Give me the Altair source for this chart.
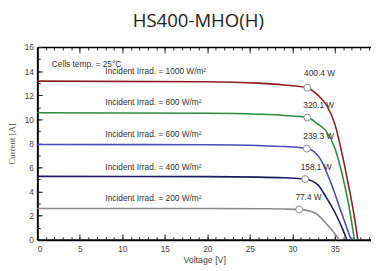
import altair as alt
import pandas as pd

# --- data ---
irrad = ["1000", "800", "600", "400", "200"]
colors = ["#8b1f1f", "#2f8a3f", "#4a4ab8", "#1c1c5c", "#8a8a8a"]

v_1000 = [0, 20, 26, 29, 31.76, 33.0, 34.0, 35.0, 35.7, 36.5, 37.2, 37.7]
i_1000 = [13.17, 13.12, 13.0, 12.85, 12.62, 12.0, 11.2, 9.6, 7.6, 4.9, 2.3, 0]
v_800 = [0, 20, 26, 29, 31.76, 33.0, 34.0, 35.0, 35.8, 36.6, 37.3]
i_800 = [10.54, 10.5, 10.42, 10.32, 10.14, 9.6, 9.0, 7.6, 5.6, 3.0, 0]
v_600 = [0, 20, 26, 29, 31.7, 33.2, 34.6, 35.6, 36.4, 36.9]
i_600 = [7.91, 7.88, 7.82, 7.74, 7.57, 6.8, 4.6, 2.6, 1.0, 0]
v_400 = [0, 20, 26, 29, 31.5, 33.0, 34.0, 35.1, 35.9, 36.4]
i_400 = [5.26, 5.24, 5.2, 5.14, 5.04, 4.55, 3.5, 2.14, 0.9, 0]
v_200 = [0, 20, 26, 29, 30.8, 32.0, 32.85, 34.0, 35.0, 35.5]
i_200 = [2.60, 2.59, 2.57, 2.55, 2.52, 2.38, 2.14, 1.33, 0.5, 0]

mpp_v = [31.76, 31.76, 31.7, 31.5, 30.8]
mpp_i = [12.62, 10.14, 7.57, 5.04, 2.52]
power_labels = ["400.4 W", "320.1 W", "239.3 W", "158.1 W", "77.4 W"]
power_v = [33.2, 33.1, 33.1, 32.8, 31.9]
power_i = [13.8, 11.14, 8.6, 6.07, 3.55]
irrad_labels = ["Incident Irrad. = 1000 W/m²", "Incident Irrad. = 800 W/m²",
                "Incident Irrad. = 600 W/m²", "Incident Irrad. = 400 W/m²",
                "Incident Irrad. = 200 W/m²"]
irrad_v = [8.0, 8.0, 8.0, 8.0, 8.0]
irrad_i = [14.0, 11.4, 8.8, 6.07, 3.44]
temp_label = ["Cells temp. = 25°C"]
temp_v = [1.7]
temp_i = [14.6]

x_minor = list(range(0, 40))
x_major = [0, 5, 10, 15, 20, 25, 30, 35]
y_minor = list(range(0, 17))
y_major = [0, 2, 4, 6, 8, 10, 12, 14, 16]

# --- tables ---
curves = []
for name, vs, is_ in zip(irrad, [v_1000, v_800, v_600, v_400, v_200],
                         [i_1000, i_800, i_600, i_400, i_200]):
    for k, (v, i) in enumerate(zip(vs, is_)):
        curves.append({"irr": name, "V": v, "I": i, "o": k})
curves = pd.DataFrame(curves)
mpp = pd.DataFrame({"irr": irrad, "V": mpp_v, "I": mpp_i})
pw = pd.DataFrame({"t": power_labels, "V": power_v, "I": power_i})
ir = pd.DataFrame({"t": irrad_labels, "V": irrad_v, "I": irrad_i})
tp = pd.DataFrame({"t": temp_label, "V": temp_v, "I": temp_i})

W, H = 341, 197
xs = alt.Scale(domain=[0, 39.25], nice=False, zero=False)
ys = alt.Scale(domain=[0, 16], nice=False)
FONT = "Liberation Sans"


def tick_axis(orient, offset, values, size, domain=False):
    return alt.Axis(orient=orient, offset=offset, values=values, tickSize=size,
                    labels=False, title=None, grid=False, domain=domain,
                    domainColor="black", domainWidth=1.5,
                    tickColor="#222", tickWidth=1)


lines = alt.Chart(curves).mark_line(strokeWidth=1.6, interpolate="monotone").encode(
    x=alt.X("V:Q", scale=xs, axis=alt.Axis(
        orient="bottom", values=x_major, ticks=False, grid=False,
        domainColor="black", domainWidth=2, labelFont=FONT, labelFontSize=8.5,
        labelColor="#444", labelPadding=5, title="Voltage [V]", titleFont=FONT,
        titleFontSize=9, titleFontWeight="normal", titleColor="#444", titlePadding=3)),
    y=alt.Y("I:Q", scale=ys, axis=alt.Axis(
        orient="left", values=y_major, ticks=False, grid=False,
        domainColor="black", domainWidth=2, labelFont=FONT, labelFontSize=8.5,
        labelColor="#444", labelPadding=4, title="Current [A]",
        titleFont="Liberation Serif", titleFontSize=9, titleFontWeight="normal",
        titleColor="#444", titlePadding=8)),
    color=alt.Color("irr:N", scale=alt.Scale(domain=irrad, range=colors), legend=None),
    order="o:Q",
)

points = alt.Chart(mpp).mark_point(shape="circle", filled=True, fill="white",
                                   stroke="#888", strokeWidth=1, size=50, opacity=1).encode(
    x=alt.X("V:Q", scale=xs, axis=tick_axis("top", -H, x_minor, 3)),
    y=alt.Y("I:Q", scale=ys, axis=tick_axis("right", -W, y_minor, 3)),
)

ptext = alt.Chart(pw).mark_text(font=FONT, fontSize=8.5, color="#333", align="center",
                                baseline="middle").encode(
    x=alt.X("V:Q", scale=xs, axis=tick_axis("top", -H, x_major, 6)),
    y=alt.Y("I:Q", scale=ys, axis=tick_axis("right", -W, y_major, 5)),
    text="t:N",
)

itext = alt.Chart(ir).mark_text(font=FONT, fontSize=8.5, color="#333", align="left",
                                baseline="middle").encode(
    x=alt.X("V:Q", scale=xs, axis=tick_axis("bottom", -H, x_minor, 3, domain=True)),
    y=alt.Y("I:Q", scale=ys, axis=None),
    text="t:N",
)

ttext = alt.Chart(tp).mark_text(font=FONT, fontSize=8.5, color="#333", align="left",
                                baseline="middle").encode(
    x=alt.X("V:Q", scale=xs, axis=tick_axis("bottom", -H, x_major, 6)),
    y=alt.Y("I:Q", scale=ys, axis=None),
    text="t:N",
)

chart = alt.layer(lines, points, ptext, itext, ttext).resolve_axis(
    x="independent", y="independent"
).properties(
    width=W, height=H,
    autosize=alt.AutoSizeParams(type="none"),
    padding={"left": 30, "top": 37, "right": 0, "bottom": 26},
    title=alt.TitleParams("HS400-MHO(H)", font="Open Sans", fontSize=19,
                          fontWeight="normal", color="#222", anchor="middle",
                          offset=12, dx=-6),
).configure_view(stroke=None)

chart.save("out.html", embed_options={"renderer": "svg", "actions": False})
